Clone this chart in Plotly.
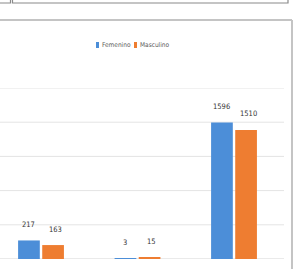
import plotly.graph_objects as go

categories = ["A", "B", "C"]
femenino = [217, 3, 1596]
masculino = [163, 15, 1510]
series_names = ["Femenino", "Masculino"]
colors = ["#4C8ED8", "#EE7D31"]
grid_vals = [400, 800, 1200, 1600, 2000]

W, H = 308, 269
L, R, T, B = 0, 24, 88, 10
pw, ph = W - L - R, H - T - B

def px_x(x):
    return (x - L) / pw

def px_y(y):
    return (H - B - y) / ph

FONT = "Liberation Sans Narrow, DejaVu Sans Condensed, Arial Narrow, sans-serif"

fig = go.Figure()
for name, vals, col in zip(series_names, [femenino, masculino], colors):
    fig.add_bar(x=categories, y=vals, name=name, marker_color=col,
                marker_line_width=0, showlegend=False)

# data labels
for vals, shift in [(femenino, -13), (masculino, 14)]:
    for c, v in zip(categories, vals):
        fig.add_annotation(x=c, y=v, text=str(v), showarrow=False,
                           xshift=shift, yshift=16,
                           font=dict(family=FONT, size=7.5, color="#333333"))

shapes = []
# gridlines
for g in grid_vals + [0]:
    shapes.append(dict(type="line", xref="paper", yref="y", layer="below",
                       x0=0, x1=1, y0=g, y1=g,
                       line=dict(color="#d4d4d4" if g == 0 else "#e4e4e4", width=1)))

# compact legend drawn manually
legend_x = [96, 134]
for name, col, lx in zip(series_names, colors, legend_x):
    shapes.append(dict(type="rect", xref="paper", yref="paper",
                       x0=px_x(lx), x1=px_x(lx + 3), y0=px_y(48), y1=px_y(42),
                       fillcolor=col, line=dict(width=0)))
    fig.add_annotation(xref="paper", yref="paper", x=px_x(lx + 3.5), y=px_y(45),
                       text=name, showarrow=False, xanchor="left", yanchor="middle",
                       font=dict(family=FONT, size=6.5, color="#595959"))

# chart frame (top and right border)
shapes.append(dict(type="line", xref="paper", yref="paper",
                   x0=px_x(-2), x1=px_x(292), y0=px_y(20), y1=px_y(20),
                   line=dict(color="#c4c4c4", width=2)))
shapes.append(dict(type="line", xref="paper", yref="paper",
                   x0=px_x(292), x1=px_x(292), y0=px_y(20), y1=px_y(275),
                   line=dict(color="#c4c4c4", width=2)))
# boxes at top
shapes.append(dict(type="rect", xref="paper", yref="paper",
                   x0=px_x(12.5), x1=px_x(288), y0=px_y(3), y1=px_y(-10),
                   line=dict(color="#8a8a8a", width=1.2)))
shapes.append(dict(type="rect", xref="paper", yref="paper",
                   x0=px_x(-10), x1=px_x(10.5), y0=px_y(3), y1=px_y(-10),
                   line=dict(color="#8a8a8a", width=1.2)))

fig.update_layout(
    width=W, height=H,
    margin=dict(l=L, r=R, t=T, b=B, autoexpand=False),
    paper_bgcolor="white", plot_bgcolor="white",
    barmode="group", bargap=0.5, bargroupgap=0.1,
    showlegend=False,
    xaxis=dict(range=[-0.425, 2.518], showticklabels=False, showgrid=False,
               zeroline=False, showline=False, ticks=""),
    yaxis=dict(range=[0, 2000], showticklabels=False, showgrid=False,
               zeroline=False, showline=False, ticks=""),
    shapes=shapes,
)

fig.write_html("out.html", config={"displayModeBar": False},
               post_script="document.body.style.margin='0px';document.body.style.overflow='hidden';")
